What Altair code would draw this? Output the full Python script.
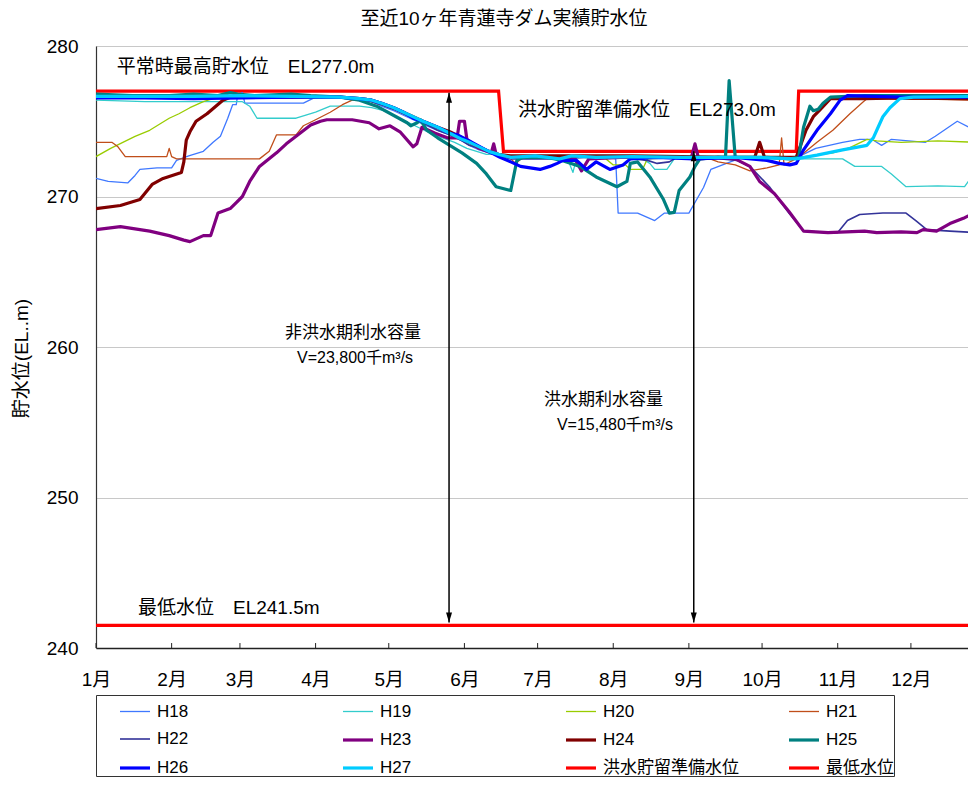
import altair as alt
import pandas as pd

FONT = "Liberation Sans, Noto Sans CJK JP, sans-serif"

# ---- axes ----
MONTH_START_DAYS = [0, 31, 59, 90, 120, 151, 181, 212, 243, 273, 304, 334]
MONTH_LABELS = ["1月", "2月", "3月", "4月", "5月", "6月", "7月", "8月", "9月", "10月", "11月", "12月"]
Y_TICKS = [240, 250, 260, 270, 280]
X_END = 357.4

# ---- series ----
SERIES_NAMES = ["H18", "H19", "H20", "H21", "H22", "H23", "H24", "H25", "H26", "H27",
                "洪水貯留準備水位", "最低水位"]
SERIES_COLORS = ["#3F78FF", "#33CCCC", "#99CC00", "#C04E1A", "#333399", "#800080",
                 "#800000", "#008080", "#0000FF", "#00CCFF", "#FF0000", "#FF0000"]
SERIES_WIDTHS = [1.3, 1.3, 1.3, 1.3, 1.6, 3.2, 3.2, 3.2, 3.2, 3.2, 3.2, 3.2]

# (day of year, water level EL m)
H18 = [(0, 271.2), (5, 271.0), (13, 270.9), (16, 271.4), (18, 271.8), (25, 271.9), (31, 271.9),
       (33, 272.4), (38, 272.7), (44, 273.0), (48, 273.6), (51, 274.0), (54, 275.2), (56, 276.1),
       (57.5, 276.1), (58, 276.7), (60, 276.9), (61, 276.2), (72, 276.2), (85, 276.2), (90, 276.6),
       (100, 276.6), (108, 276.5), (113, 276.3), (117, 276.0), (122, 275.7), (126, 275.4),
       (130, 275.1), (134, 274.8), (140, 274.4), (145, 274.1), (150, 273.7), (153, 273.4),
       (157, 273.1), (161, 272.9), (165, 272.7), (170, 272.6), (180, 272.6), (190, 272.5),
       (200, 272.6), (210, 272.6), (213, 272.5), (214, 268.9), (222, 268.9), (229, 268.4),
       (233, 268.9), (243, 268.9), (249, 270.6), (252, 271.8), (260, 272.3), (265, 272.6),
       (275, 272.6), (288, 272.65), (295, 273.2), (306, 273.6), (313, 273.8), (318, 273.8),
       (322, 273.4), (326, 273.8), (340, 273.6), (344, 274.0), (353, 275.0), (359, 274.5),
       (359.5, 276.1), (361, 276.2)]
H19 = [(0, 276.4), (20, 276.3), (40, 276.3), (60, 276.3), (63, 276.0), (66, 275.2), (75, 275.2),
       (82, 275.2), (86, 275.4), (90, 275.6), (96, 276.0), (108, 276.0), (113, 275.9), (118, 275.7),
       (123, 275.3), (127, 275.0), (132, 274.6), (137, 274.2), (142, 273.9), (147, 273.6),
       (152, 273.2), (156, 273.0), (160, 272.8), (164, 272.8), (170, 272.6), (180, 272.6),
       (193, 272.6), (195.5, 271.6), (197, 272.6), (210, 272.6), (224, 272.5), (227, 272.2),
       (229, 271.8), (234, 271.8), (237, 272.5), (250, 272.6), (270, 272.6), (288, 272.5),
       (306, 272.5), (311, 272.0), (322, 272.0), (326, 271.5), (332, 270.65), (345, 270.7),
       (356, 270.65), (358, 271.1), (361, 271.1)]
H20 = [(0, 272.65), (6, 273.2), (11, 273.6), (16, 274.0), (22, 274.4), (26, 274.8), (30, 275.2),
       (34, 275.5), (38.5, 275.9), (44, 276.3), (48, 276.5), (60, 276.6), (75, 276.6), (88, 276.6),
       (100, 276.6), (108, 276.5), (113, 276.3), (117, 276.1), (122, 275.8), (126, 275.5),
       (130, 275.2), (134, 274.9), (140, 274.5), (145, 274.2), (150, 273.8), (153, 273.5),
       (157, 273.2), (161, 273.0), (165, 272.8), (170, 272.6), (185, 272.6), (200, 272.6),
       (209, 272.5), (212, 272.1), (217, 272.1), (219, 271.8), (224, 271.8), (226, 272.5),
       (240, 272.6), (260, 272.6), (280, 272.6), (288, 272.6), (302, 272.9), (309, 273.25),
       (316, 273.8), (320, 273.7), (330, 273.6), (345, 273.7), (361, 273.6)]
H21 = [(0, 273.6), (6.5, 273.6), (9, 273.3), (12, 272.65), (20, 272.65), (29, 272.65), (30, 273.2),
       (31, 272.65), (33, 272.5), (45, 272.5), (60, 272.5), (67, 272.5), (71, 273.0), (74, 274.1),
       (82, 274.1), (85, 274.7), (90, 275.1), (96, 275.6), (101, 276.1), (105, 276.4), (110, 276.4),
       (113, 276.3), (117, 276.1), (122, 275.8), (126, 275.6), (130, 275.3), (134, 275.0),
       (140, 274.6), (145, 274.2), (150, 273.9), (153, 273.6), (157, 273.3), (161, 273.0),
       (165, 272.8), (170, 272.5), (172, 272.2), (175, 272.6), (185, 272.6), (200, 272.6),
       (220, 272.6), (240, 272.6), (250, 272.6), (255, 272.3), (262, 272.1), (268, 271.7),
       (275, 271.9), (280, 272.1), (281, 273.9), (282, 272.1), (288, 272.6), (295.5, 273.6),
       (302, 274.4), (309, 275.5), (314.5, 276.3), (316, 276.5), (330, 276.45), (345, 276.45),
       (361, 276.4)]
H22 = [(0, 276.6), (20, 276.6), (40, 276.6), (60, 276.6), (88, 276.6), (100, 276.6), (108, 276.5),
       (113, 276.3), (117, 276.1), (122, 275.8), (126, 275.5), (130, 275.2), (134, 274.9),
       (140, 274.4), (145, 274.1), (150, 273.7), (153, 273.4), (157, 273.2), (161, 273.0),
       (165, 272.7), (170, 272.5), (185, 272.5), (200, 272.6), (215, 272.6), (226, 272.4),
       (230, 272.2), (235, 272.3), (238, 272.6), (250, 272.6), (262.7, 272.4), (268, 272.0),
       (276, 270.65), (284, 268.9), (290, 267.7), (300, 267.6), (304, 267.6), (308, 268.4),
       (313, 268.8), (322.5, 268.9), (332, 268.9), (336, 268.4), (340.5, 267.8), (350, 267.7),
       (361, 267.6)]
H23 = [(0, 267.8), (10, 268.0), (22, 267.7), (30, 267.4), (36, 267.1), (38.5, 267.0), (44, 267.4),
       (47, 267.4), (50, 268.9), (55, 269.2), (57.5, 269.6), (60, 270.0), (63, 271.0), (67, 272.0),
       (74, 272.9), (78, 273.5), (82, 274.0), (88, 274.75), (92, 275.0), (94.6, 275.1), (105, 275.1),
       (112, 274.9), (116, 274.5), (120.5, 274.7), (124.6, 274.3), (130, 273.3), (131.5, 273.5),
       (133.6, 274.6), (139, 274.2), (144, 273.9), (148, 273.9), (149, 275.0), (151, 275.0),
       (152, 273.8), (157, 273.2), (162, 272.9), (163, 273.5), (164, 272.8), (170, 272.6),
       (185, 272.6), (196, 272.6), (199, 271.7), (202, 272.5), (215, 272.6), (230, 272.6),
       (244, 272.6), (245.5, 273.5), (247, 272.5), (255, 272.6), (262, 272.5), (268, 272.0),
       (272, 271.0), (278, 270.2), (284, 269.0), (290, 267.7), (300, 267.6), (315, 267.7),
       (320, 267.6), (330, 267.65), (336.5, 267.6), (339, 267.8), (344.5, 267.7), (350, 268.2),
       (355.5, 268.55), (361, 269.0)]
H24 = [(0, 269.2), (10, 269.4), (18, 269.8), (20, 270.2), (23, 270.8), (27.5, 271.2), (35, 271.6),
       (36, 272.3), (37, 273.75), (38.5, 274.3), (41, 275.0), (45.5, 275.5), (52, 276.4),
       (55, 276.6), (70, 276.6), (88, 276.6), (100, 276.6), (108, 276.5), (113, 276.4), (117, 276.2),
       (122, 275.9), (126, 275.6), (130, 275.3), (134, 275.0), (140, 274.6), (145, 274.3),
       (150, 273.9), (153, 273.6), (157, 273.3), (161, 273.0), (165, 272.8), (170, 272.7),
       (185, 272.7), (200, 272.7), (220, 272.7), (240, 272.65), (260, 272.6), (270, 272.6),
       (272, 273.6), (274, 272.6), (287, 272.6), (291, 274.4), (294, 275.3), (296.7, 275.75),
       (301, 276.5), (315, 276.5), (330, 276.55), (361, 276.5)]
H25 = [(0, 276.8), (15, 276.7), (30, 276.7), (40, 276.8), (50, 276.7), (55, 276.9), (58, 276.8),
       (65, 276.7), (80, 276.8), (88, 276.7), (100, 276.6), (108, 276.4), (115, 276.0),
       (123, 275.3), (127.5, 274.9), (129, 274.7), (131.6, 274.9), (133, 275.1), (135.6, 274.4),
       (140, 273.9), (145, 273.4), (150, 272.9), (156, 272.2), (160, 271.5), (164, 270.65),
       (170, 270.4), (172.5, 272.4), (175, 272.6), (185, 272.6), (191, 272.4), (198.4, 272.0),
       (205, 271.3), (213.5, 270.65), (217.6, 271.0), (219, 272.2), (222, 272.3), (227, 271.3),
       (232.6, 269.8), (235, 268.9), (237, 268.95), (239, 270.4), (243.4, 271.3), (245.5, 272.0),
       (247.5, 272.5), (255, 272.6), (258, 272.6), (259.5, 277.7), (262, 272.6), (275, 272.6),
       (284.4, 272.5), (288, 272.6), (290, 274.6), (292.6, 276.0), (294, 275.7), (296, 275.8),
       (298, 276.2), (301, 276.6), (315, 276.7), (330, 276.7), (361, 276.7)]
H26 = [(0, 276.55), (20, 276.55), (40, 276.5), (60, 276.55), (80, 276.6), (100, 276.6), (108, 276.5),
       (113, 276.4), (117, 276.2), (122, 275.9), (126, 275.6), (130, 275.2), (134, 275.0),
       (140, 274.6), (145, 274.2), (148, 274.1), (153, 273.7), (158.6, 273.2), (165.6, 272.6),
       (170, 272.3), (174, 272.0), (178, 271.9), (182, 271.8), (186, 272.0), (189, 272.2),
       (191.4, 272.4), (197, 272.4), (201, 271.8), (205, 272.3), (210.6, 271.8), (216, 272.1),
       (219, 272.5), (230, 272.6), (245, 272.5), (262, 272.6), (275, 272.4), (280, 272.2),
       (284.4, 272.1), (287, 272.2), (290, 273.1), (295.5, 274.4), (301, 275.5), (305, 276.4),
       (308, 276.7), (330, 276.6), (361, 276.6)]
H27 = [(0, 276.65), (20, 276.65), (40, 276.65), (60, 276.7), (80, 276.65), (100, 276.6),
       (108, 276.5), (113, 276.4), (117, 276.2), (122, 275.9), (126, 275.6), (130, 275.3),
       (134, 275.0), (140, 274.6), (145, 274.2), (150, 273.8), (153, 273.6), (157, 273.3),
       (161, 273.0), (165, 272.8), (170, 272.6), (180, 272.7), (190, 272.5), (195, 272.7),
       (205, 272.6), (220, 272.65), (240, 272.6), (255, 272.6), (270, 272.6), (287, 272.5),
       (295.5, 272.75), (306, 273.1), (316, 273.4), (318.6, 273.9), (320, 274.4), (322.5, 275.3),
       (325.4, 275.9), (329.5, 276.5), (335, 276.6), (361, 276.65)]
FLOOD_PREP = [(0, 277.0), (165, 277.0), (167, 273.0), (287, 273.0), (288, 277.0), (361, 277.0)]
MIN_LEVEL = [(0, 241.5), (361, 241.5)]

# ---- annotations ----
TITLE = "至近10ヶ年青蓮寺ダム実績貯水位"
Y_TITLE = "貯水位(EL..m)"
LEVEL_LABELS = ["平常時最高貯水位　EL277.0m", "洪水貯留準備水位　EL273.0m", "最低水位　EL241.5m"]
LEVEL_LABEL_DAY = [8.5, 173, 17.2]
LEVEL_LABEL_Y = [278.6, 275.75, 242.65]
VOLUME_TITLES = ["非洪水期利水容量", "洪水期利水容量"]
VOLUME_TITLE_DAY = [77.5, 183.6]
VOLUME_TITLE_Y = [260.9, 256.5]
VOLUME_VALUES = ["V=23,800千m³/s", "V=15,480千m³/s"]
VOLUME_VALUE_DAY = [82.4, 188.9]
VOLUME_VALUE_Y = [259.25, 254.8]
ARROW_DAY = [144.7, 245.0]
ARROW_TOP = [276.9, 273.0]
ARROW_BOTTOM = [241.7, 241.7]

# ---- tables ----
def to_rows(name, pts):
    return [{"series": name, "day": d, "level": v} for d, v in pts]

year_rows = []
for name, pts in zip(SERIES_NAMES[:10], [H18, H19, H20, H21, H22, H23, H24, H25, H26, H27]):
    year_rows += to_rows(name, pts)
years_df = pd.DataFrame(year_rows)
ref_df = pd.DataFrame(to_rows(SERIES_NAMES[10], FLOOD_PREP) + to_rows(SERIES_NAMES[11], MIN_LEVEL))

ticks_df = pd.DataFrame({"day": MONTH_START_DAYS, "level": [240] * 12, "level2": [240.33] * 12})
arrows_df = pd.DataFrame({"day": ARROW_DAY, "level": ARROW_TOP, "level2": ARROW_BOTTOM})
heads_top_df = pd.DataFrame({"day": ARROW_DAY, "level": ARROW_TOP})
heads_bot_df = pd.DataFrame({"day": ARROW_DAY, "level": ARROW_BOTTOM})
level_df = pd.DataFrame({"day": LEVEL_LABEL_DAY, "level": LEVEL_LABEL_Y, "label": LEVEL_LABELS})
vt_df = pd.DataFrame({"day": VOLUME_TITLE_DAY, "level": VOLUME_TITLE_Y, "label": VOLUME_TITLES})
vv_df = pd.DataFrame({"day": VOLUME_VALUE_DAY, "level": VOLUME_VALUE_Y, "label": VOLUME_VALUES})

labels_js = "[" + ",".join("'" + m + "'" for m in MONTH_LABELS) + "]"
days_js = "[" + ",".join(str(d) for d in MONTH_START_DAYS) + "]"

X = alt.X("day:Q",
          scale=alt.Scale(domain=[0, X_END], nice=False, zero=False),
          axis=alt.Axis(values=MONTH_START_DAYS, labelExpr=f"{labels_js}[indexof({days_js}, datum.value)]",
                        grid=False, ticks=False, labelPadding=22, labelFontSize=19, labelFont=FONT,
                        labelColor="black", domainColor="#222222", domainWidth=1.5, title=None,
                        labelOverlap=False, labelFlush=False))
Y = alt.Y("level:Q",
          scale=alt.Scale(domain=[240, 280], nice=False, zero=False),
          axis=alt.Axis(values=Y_TICKS, grid=True, gridColor="#C8C8C8", gridWidth=1, ticks=False,
                        labelPadding=18, labelFontSize=19, labelFont=FONT, labelColor="black",
                        domainColor="#333333", domainWidth=1.2,
                        title=Y_TITLE, titleFont=FONT, titleFontSize=19, titleFontWeight="normal",
                        titleColor="black", titleX=-75, titleY=312, titleAngle=270,
                        titleAlign="center", titleBaseline="middle"))

legend = alt.Legend(title=None, orient="none", legendX=0, legendY=649, columns=4,
                    direction="horizontal",
                    symbolType="stroke", symbolSize=900, symbolOffset=22, labelOffset=5,
                    labelFontSize=17, labelFont=FONT, labelColor="black", labelLimit=300,
                    padding=0, strokeColor="#333333", fillColor="white",
                    rowPadding=3, columnPadding=26, gridAlign="all")
COLOR = alt.Color("series:N", sort=SERIES_NAMES,
                  scale=alt.Scale(type="ordinal", domain=SERIES_NAMES, range=SERIES_COLORS), legend=legend)
WIDTH = alt.StrokeWidth("series:N", sort=SERIES_NAMES,
                        scale=alt.Scale(type="ordinal", domain=SERIES_NAMES, range=SERIES_WIDTHS),
                        legend=legend)

ref_lines = alt.Chart(ref_df).mark_line(clip=True).encode(
    x=X, y=Y, color=COLOR, strokeWidth=WIDTH, detail="series:N")
year_lines = alt.Chart(years_df).mark_line(clip=True, strokeJoin="round").encode(
    x=X, y=Y, color=COLOR, strokeWidth=WIDTH, detail="series:N")

ticks = alt.Chart(ticks_df).mark_rule(color="#222222", strokeWidth=1).encode(
    x=X, y=Y, y2="level2:Q")
arrows = alt.Chart(arrows_df).mark_rule(color="black", strokeWidth=1.5).encode(
    x=X, y=Y, y2="level2:Q")
heads_top = alt.Chart(heads_top_df).mark_point(
    shape="M0,0L-0.3,1L0.3,1Z", filled=True, color="black", opacity=1, size=400).encode(x=X, y=Y)
heads_bot = alt.Chart(heads_bot_df).mark_point(
    shape="M0,0L-0.3,-1L0.3,-1Z", filled=True, color="black", opacity=1, size=400).encode(x=X, y=Y)

level_text = alt.Chart(level_df).mark_text(
    align="left", baseline="middle", fontSize=19, font=FONT, color="black").encode(x=X, y=Y, text="label:N")
vt_text = alt.Chart(vt_df).mark_text(
    align="left", baseline="middle", fontSize=17, font=FONT, color="black").encode(x=X, y=Y, text="label:N")
vv_text = alt.Chart(vv_df).mark_text(
    align="left", baseline="middle", fontSize=16, font=FONT, color="black").encode(x=X, y=Y, text="label:N")

chart = alt.layer(
    ref_lines, year_lines, ticks, arrows, heads_top, heads_bot, level_text, vt_text, vv_text
).properties(
    width=872, height=602,
    padding={"left": 88, "top": 38, "right": 0, "bottom": 131},
    autosize=alt.AutoSizeParams(type="none"),
    title=alt.TitleParams(TITLE, fontSize=19, font=FONT, fontWeight="normal", color="black",
                          anchor="middle", dx=-28, offset=8),
).configure_view(strokeWidth=0).configure(background="white")

chart.save("out.html", embed_options={"renderer": "svg", "actions": False})
